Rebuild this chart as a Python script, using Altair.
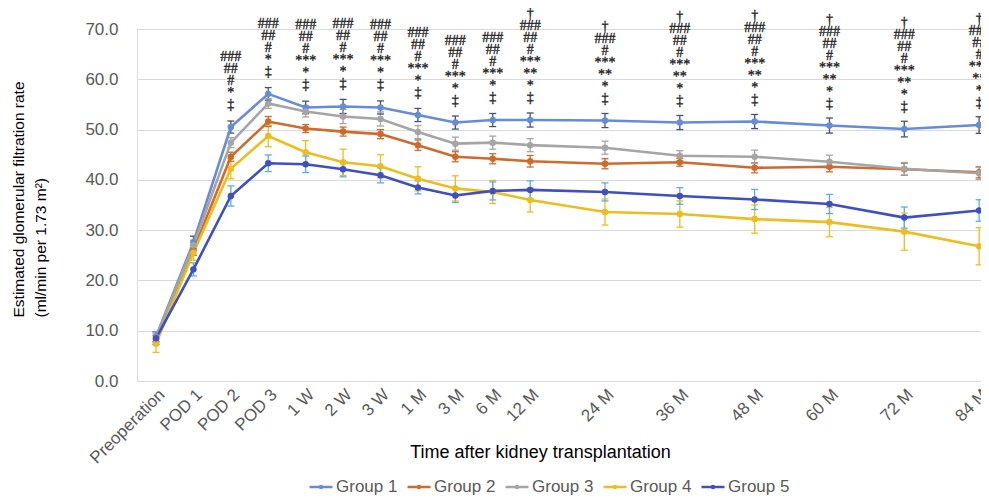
import json
import altair as alt
import pandas as pd

# ---------------- data ----------------
times = ["Preoperation", "POD 1", "POD 2", "POD 3", "1 W", "2 W", "3 W", "1 M",
         "3 M", "6 M", "12 M", "24 M", "36 M", "48 M", "60 M", "72 M", "84 M"]
# position of each visit on the time axis (yearly visits take two slots)
slots = [0, 1, 2, 3, 4, 5, 6, 7, 8, 9, 10, 12, 14, 16, 18, 20, 22]
groups = ["Group 1", "Group 2", "Group 3", "Group 4", "Group 5"]

g1 = [8.8, 27.6, 50.5, 57.1, 54.4, 54.6, 54.4, 52.9, 51.4, 51.9, 51.9, 51.8, 51.4, 51.6, 50.8, 50.1, 50.9]
g1_err = [1.0, 1.2, 1.2, 1.25, 1.25, 1.4, 1.3, 1.3, 1.3, 1.3, 1.4, 1.4, 1.4, 1.4, 1.5, 1.55, 1.65]
g2 = [8.2, 26.0, 44.6, 51.6, 50.2, 49.6, 49.1, 46.9, 44.6, 44.2, 43.7, 43.2, 43.5, 42.4, 42.6, 42.1, 41.5]
g2_err = [0.9, 1.0, 0.9, 1.0, 0.8, 0.9, 0.9, 1.05, 1.0, 1.0, 1.15, 1.0, 0.8, 1.0, 1.0, 1.2, 1.1]
g3 = [8.6, 27.0, 47.4, 55.2, 53.6, 52.6, 52.1, 49.5, 47.2, 47.4, 46.9, 46.4, 44.8, 44.6, 43.6, 42.2, 41.3]
g3_err = [0.9, 1.0, 1.0, 1.0, 1.1, 1.4, 1.4, 1.3, 1.3, 1.3, 1.3, 1.3, 1.0, 1.3, 1.3, 1.25, 1.2]
g4 = [7.4, 25.5, 42.2, 48.7, 45.5, 43.5, 42.7, 40.2, 38.3, 37.6, 36.0, 33.6, 33.2, 32.2, 31.6, 29.7, 26.8]
g4_err = [1.7, 1.5, 2.0, 2.1, 2.3, 2.6, 2.3, 2.4, 2.5, 2.3, 2.4, 2.6, 2.6, 2.8, 2.9, 3.7, 3.7]
g5 = [8.5, 22.2, 36.8, 43.3, 43.1, 42.1, 40.9, 38.5, 36.9, 37.8, 38.0, 37.6, 36.8, 36.1, 35.2, 32.5, 33.9]
g5_err = [1.3, 1.3, 2.0, 1.65, 1.65, 1.5, 1.5, 1.3, 1.4, 1.8, 1.8, 1.8, 1.65, 2.0, 1.9, 2.1, 2.15]

# significance marks above each visit (top line first)
marks_a = ["###", "##", "#", "*", "\u2021"]
marks_b = ["###", "##", "#", "***", "*", "\u2021"]
marks_c = ["\u2020", "###", "##", "#", "***", "**", "*", "\u2021"]
marks_d = ["\u2020", "###", "#", "***", "**", "*", "\u2021"]
annotations = [[], [], marks_a, marks_a, marks_b, marks_b, marks_b, marks_b, marks_b, marks_b,
               marks_c, marks_d, marks_c, marks_c, marks_c, marks_c, marks_c]

# ---------------- styling ----------------
line_colors = ["#668CD9", "#CF6A2B", "#A5A5A5", "#EBBD1E", "#3F4FBF"]
err_colors = ["#44546A", "#CF6A2B", "#A5A5A5", "#EBBD1E", "#5AACEB"]
FONT = "Liberation Sans"
ANN_FONT = "Liberation Serif"
LINE_GAP = 12

series = [g1, g2, g3, g4, g5]
errors = [g1_err, g2_err, g3_err, g4_err, g5_err]
bar_keys = [g + " error" for g in groups]  # separate key so the error-bar scale gets no legend
rows = []
for gname, bkey, vals, errs in zip(groups, bar_keys, series, errors):
    for t, s, v, e in zip(times, slots, vals, errs):
        rows.append({"group": gname, "bars": bkey, "time": t, "slot": s, "value": v,
                     "lo": v - e, "hi": v + e})
df = pd.DataFrame(rows)

ann_rows = []
for s, v, lines_ in zip(slots, g1, annotations):
    for k, txt in enumerate(reversed(lines_)):
        ann_rows.append({"slot": s, "base": v, "k": k, "label": txt})
ann = pd.DataFrame(ann_rows)
max_lines = int(ann["k"].max()) + 1

label_expr = "{}[indexof({}, datum.value)]".format(json.dumps(times), json.dumps(slots))

x_enc = alt.X(
    "slot:Q",
    scale=alt.Scale(domain=[-0.508, 22.05], nice=False, zero=False),
    axis=alt.Axis(
        values=slots, labelExpr=label_expr, grid=False, ticks=False, domain=False,
        labelAngle=-45, labelAlign="right", labelBaseline="top", labelPadding=5,
        labelFontSize=17, labelColor="#595959", labelFont=FONT, labelOverlap=False,
        labelBound=False, labelFlush=False,
        title="Time after kidney transplantation", titleFontSize=18,
        titleFontWeight="normal", titleColor="#000000", titleFont=FONT,
        titleX=403, titleY=71, titleAlign="center", titleBaseline="middle",
    ),
)
y_enc = alt.Y(
    "value:Q",
    scale=alt.Scale(domain=[0, 70], nice=False, zero=True),
    axis=alt.Axis(
        values=[0, 10, 20, 30, 40, 50, 60, 70], format=".1f", grid=True,
        gridColor="#D9D9D9", gridWidth=1, domain=False, ticks=False,
        labelFontSize=17, labelColor="#595959", labelFont=FONT, labelPadding=19,
        title=["Estimated glomerular filtration rate", "(ml/min per 1.73 m\u00b2)"],
        titleFontSize=15.5, titleFontWeight="normal", titleColor="#000000", titleFont=FONT,
        titleAngle=-90, titleAlign="left", titleBaseline="top",
        titleX=-126, titleY=288, titleLineHeight=22,
    ),
)

base = alt.Chart(df)
err_stroke = alt.Stroke("bars:N", scale=alt.Scale(domain=bar_keys, range=err_colors), legend=None)

err_rule = base.mark_rule(strokeWidth=1.3).encode(
    x=x_enc, y=alt.Y("lo:Q"), y2="hi:Q", stroke=err_stroke)
cap_hi = base.mark_rule(strokeWidth=1.3, xOffset=-3.5, x2Offset=3.5).encode(
    x=alt.X("slot:Q"), x2="slot:Q", y=alt.Y("hi:Q"), stroke=err_stroke)
cap_lo = base.mark_rule(strokeWidth=1.3, xOffset=-3.5, x2Offset=3.5).encode(
    x=alt.X("slot:Q"), x2="slot:Q", y=alt.Y("lo:Q"), stroke=err_stroke)

legend_symbol = "M-1,0L1,0M-0.09,0A0.09,0.09,0,1,1,0.09,0A0.09,0.09,0,1,1,-0.09,0Z"
lines = base.mark_line(strokeWidth=2.6, point=alt.OverlayMarkDef(filled=True, size=42)).encode(
    x=x_enc, y=y_enc,
    color=alt.Color(
        "group:N", scale=alt.Scale(domain=groups, range=line_colors),
        legend=alt.Legend(title=None, orient="none", legendX=171, legendY=445,
                          direction="horizontal",
                          symbolType=legend_symbol, symbolSize=529, symbolStrokeWidth=2.5,
                          labelFontSize=17, labelColor="#595959", labelFont=FONT,
                          labelOffset=2, columnPadding=4),
    ),
    order=alt.Order("slot:Q"),
)

text_layers = []
for k in range(max_lines):
    text_layers.append(
        alt.Chart(ann).transform_filter(alt.datum.k == k).mark_text(
            baseline="middle", align="center", dy=-22 - LINE_GAP * k,
            fontSize=14, color="#262626", font=ANN_FONT,
            stroke="#262626", strokeWidth=0.35,
        ).encode(x=alt.X("slot:Q"), y=alt.Y("base:Q"), text="label:N")
    )

chart = alt.layer(err_rule, cap_hi, cap_lo, lines, *text_layers).properties(
    width=844, height=352,
    padding={"left": 129, "top": 21, "right": 0, "bottom": 116},
    autosize=alt.AutoSizeParams(type="none"),
).configure_view(stroke=None).configure(font=FONT)

chart.save("out.html", embed_options={"renderer": "svg", "actions": False})
